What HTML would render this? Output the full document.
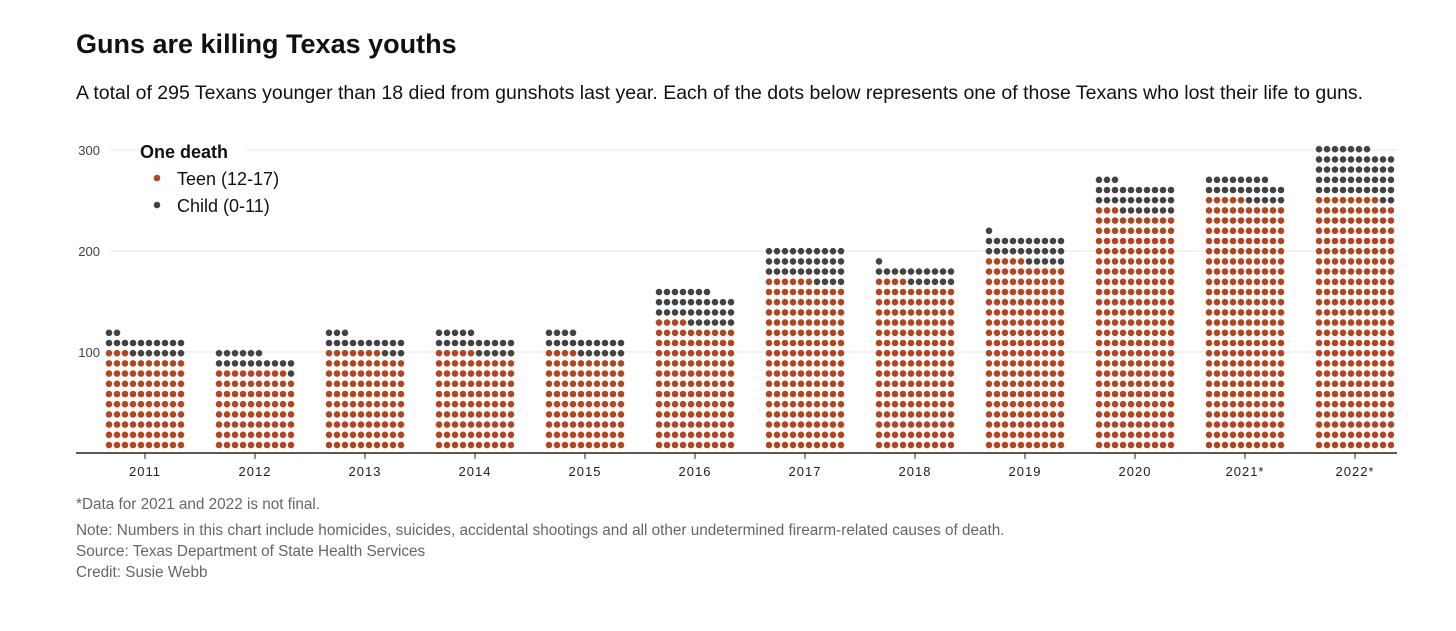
<!DOCTYPE html>
<html><head><meta charset="utf-8">
<style>
body{margin:0;background:#fff;width:1456px;height:631px;overflow:hidden;font-family:"Liberation Sans",sans-serif;}
.t{position:absolute;white-space:nowrap;}
</style></head>
<body>
<div class="t" style="left:76px;top:29px;font-size:27px;font-weight:bold;color:#111;">Guns are killing Texas youths</div>
<div class="t" style="left:76px;top:82px;font-size:19.5px;color:#111;">A total of 295 Texans younger than 18 died from gunshots last year. Each of the dots below represents one of those Texans who lost their life to guns.</div>
<svg id="chart" width="1456" height="631" style="position:absolute;left:0;top:0;"></svg>
<div class="t" style="left:76px;top:496px;font-size:15.3px;color:#666;">*Data for 2021 and 2022 is not final.</div>
<div class="t" style="left:76px;top:522px;font-size:15.3px;color:#666;">Note: Numbers in this chart include homicides, suicides, accidental shootings and all other undetermined firearm-related causes of death.</div>
<div class="t" style="left:76px;top:543px;font-size:15.3px;color:#666;">Source: Texas Department of State Health Services</div>
<div class="t" style="left:76px;top:564px;font-size:15.3px;color:#666;">Credit: Susie Webb</div>
<script>
const years = ["2011","2012","2013","2014","2015","2016","2017","2018","2019","2020","2021*","2022*"];
const teens = [93,79,97,95,94,124,166,164,185,233,245,248];
const children = [19,17,16,20,20,33,34,17,26,30,23,49];
const yTicks = [100,200,300];

const svg = document.getElementById('chart');
const NS = 'http://www.w3.org/2000/svg';
const x0 = 145, step = 110;
const xScale = i => x0 + i*step;
const yScale = v => 453 - v*1.01;
const rowY = r => 445 - r*10.2;
function mk(tag, attrs){const e=document.createElementNS(NS,tag);for(const k in attrs)e.setAttribute(k,attrs[k]);svg.appendChild(e);return e;}

yTicks.forEach(v=>{
  const g = mk('line',{x1:110,x2:1397,y1:yScale(v),y2:yScale(v),stroke:'#e4e4e4','stroke-width':1});
  
  
  const t = mk('text',{x:100,y:yScale(v)+5,'text-anchor':'end','font-size':13,fill:'#444','font-family':'Liberation Sans, sans-serif'});
  t.textContent = v;
  
  
});

years.forEach((yr,i)=>{
  const cx = xScale(i);
  const total = teens[i]+children[i];
  for(let k=0;k<total;k++){
    const r = Math.floor(k/10), c = k%10;
    const d = mk('circle',{cx:cx-36+c*8,cy:rowY(r),r:3.3,fill:k<teens[i]?'#b5451f':'#434343'});
    
    
  }
  const tk = mk('line',{x1:cx,x2:cx,y1:453,y2:459,stroke:'#222','stroke-width':1});
  
  
  const lb = mk('text',{x:cx,y:476,'text-anchor':'middle','font-size':13,fill:'#222','letter-spacing':'1','font-family':'Liberation Sans, sans-serif'});
  lb.textContent = yr;
  
  
});
const ax = mk('line',{x1:76,x2:1397,y1:453,y2:453,stroke:'#222','stroke-width':1.5});



const bg = mk('rect',{x:136,y:138,width:110,height:82,fill:'#fff'});


const lt = mk('text',{x:140,y:158,'font-size':18,'font-weight':'bold',fill:'#111','font-family':'Liberation Sans, sans-serif'});
lt.textContent='One death';


[['Teen (12-17)','#b5451f',178],['Child (0-11)','#434343',205]].forEach(([s,col,y])=>{
  const c = mk('circle',{cx:157,cy:y,r:3.3,fill:col});
  
  
  const t = mk('text',{x:177,y:y+7,'font-size':18,fill:'#111','font-family':'Liberation Sans, sans-serif'});
  t.textContent=s;
  
  
});
</script>
</body></html>
